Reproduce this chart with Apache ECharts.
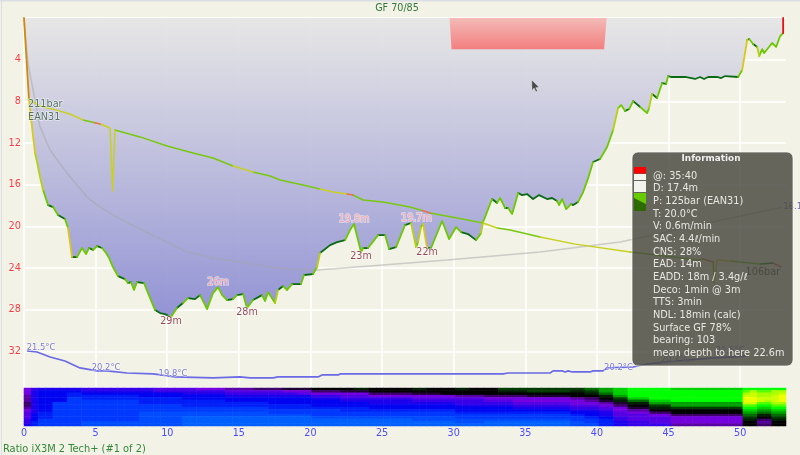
<!DOCTYPE html>
<html><head><meta charset="utf-8">
<style>html,body{margin:0;padding:0;background:#f2f2e6}#c{width:800px;height:455px}</style>
<script src="https://cdn.jsdelivr.net/npm/echarts@6/dist/echarts.min.js"></script>
</head><body><div id="c"></div>
<script>
const depthProfile=[[0,0],[.35,7.87],[.56,10.46],[.77,12.96],[.91,13.82],[1.12,15.26],[1.33,16.51],[1.68,17.95],[2.03,18.14],[2.37,18.91],[2.86,19.29],[3.07,20.15],[3.35,22.94],[3.7,22.94],[4.05,22.07],[4.33,22.65],[4.54,22.07],[4.82,22.26],[5.1,21.88],[5.45,22.07],[5.73,22.55],[5.94,23.03],[6.21,23.9],[6.56,24.76],[7.05,25.05],[7.26,25.43],[7.47,25.34],[7.68,26.1],[7.89,25.34],[8.38,25.43],[8.66,26.39],[9.15,28.02],[9.5,28.31],[9.85,28.41],[10.26,28.69],[10.68,27.83],[11.1,27.35],[11.45,26.87],[11.94,26.97],[12.29,26.59],[12.78,27.93],[13.2,26.39],[13.55,25.82],[13.83,26.59],[14.18,27.06],[14.59,26.97],[14.87,26.59],[15.29,26.49],[15.57,27.83],[15.99,27.06],[16.62,26.59],[16.83,27.16],[17.04,26.3],[17.18,26.59],[17.53,27.35],[17.74,26.1],[18.09,25.72],[18.37,26.1],[18.71,25.53],[19.34,25.53],[19.55,24.66],[20.18,24.57],[20.46,23.9],[20.67,22.55],[21.37,21.79],[21.86,21.5],[22.42,21.31],[22.76,20.35],[23.04,19.77],[23.53,22.46],[23.67,22.07],[24.02,22.07],[24.72,20.83],[25.21,20.83],[25.49,22.17],[25.98,21.98],[26.6,19.87],[27.02,19.67],[27.37,21.98],[27.51,21.5],[27.72,20.06],[27.86,19.77],[28.14,22.07],[28.42,22.07],[29.19,19.48],[29.68,21.21],[30.17,20.06],[30.51,20.54],[31,20.73],[31.56,21.31],[31.91,20.64],[32.05,19.58],[32.68,17.37],[33.03,17.75],[33.24,17.27],[33.59,18.23],[33.8,18.23],[34.08,18.81],[34.5,16.79],[34.78,16.99],[35.12,16.89],[35.54,17.37],[35.96,16.99],[36.52,17.37],[36.87,17.27],[37.22,17.56],[37.36,17.95],[37.57,17.37],[37.64,17.56],[37.85,18.33],[38.2,17.85],[38.34,17.95],[38.68,17.66],[39.04,16.7],[39.39,15.36],[39.73,13.82],[40.22,13.53],[40.71,12.38],[41.13,10.75],[41.48,8.64],[41.69,8.35],[41.97,8.93],[42.25,8.73],[42.53,7.97],[43.02,8.54],[43.5,9.12],[43.64,8.64],[43.85,7.29],[44.2,7.68],[44.55,6.24],[44.83,6.33],[44.97,5.57],[45.18,5.66],[46.16,5.66],[46.86,5.85],[47.2,5.66],[47.48,5.85],[47.76,5.66],[48.39,5.66],[48.67,5.76],[48.95,5.57],[49.86,5.66],[50.14,4.99],[50.49,2.11],[50.63,2.02],[50.91,2.5],[51.19,2.78],[51.33,3.65],[51.54,2.98],[51.68,3.36],[52.23,2.4],[52.51,2.78],[52.79,1.73],[53,1.44],[53,0]];
const meanDepth=[[0,0],[.14,2.4],[.28,4.32],[1.12,10.46],[1.82,12.67],[3,14.88],[4.4,17.18],[5.31,18.14],[6.49,19.1],[8.1,20.25],[9.99,21.5],[11.38,22.46],[13.2,23.03],[15.08,23.42],[17.18,23.9],[18.57,24.09],[20.46,24.18],[24.16,23.8],[29.54,23.22],[36.03,22.46],[41.62,21.5],[52.93,18.14]];
const ceiling=[[29.71,0],[29.85,3],[40.5,3],[40.68,0]];
const pressure=[[.28,211],[1.12,206.6],[1.96,204.8],[3.21,201.6],[4.12,197.9],[4.95,196.1],[5.31,195.4],[6.01,192.9],[6.19,153.5],[6.35,191.6],[8.1,187.3],[9.99,181.6],[11.8,177.3],[13.2,174.1],[14.59,169.1],[15.99,165.4],[17.18,162.9],[17.88,160.4],[19.48,157.3],[20.67,154.8],[21.58,152.9],[22.55,151.6],[22.97,151],[23.67,147.9],[25.07,146.6],[26.95,143.5],[27.8,141.3],[28.35,139.8],[30.24,136.6],[32.05,133.5],[33.03,130.4],[33.94,129.1],[36.03,124.8],[38.48,120.3],[42.32,115.4],[45.32,112.3],[47,110.4],[47.42,111],[48.11,109.1],[48.18,96],[48.39,110.4],[49.3,109.8],[51.4,107.9],[52.3,108.5],[52.86,106]];
const pressureTone="22221322211111211112231111311211221113122 1033".replace(' ','');
const temperature=[[.21,21.5],[.91,21.43],[1.82,21.1],[2.86,20.83],[3.91,20.37],[5.1,20.17],[5.8,20.17],[7.19,20.03],[9.01,19.97],[10.54,19.77],[13.2,19.7],[15.08,19.77],[15.78,19.7],[17.39,19.7],[17.74,19.77],[20.53,19.77],[20.81,19.9],[21.93,19.9],[22.07,19.97],[33.45,19.97],[33.8,20.03],[36.73,20.03],[36.94,20.17],[37.57,20.17],[37.78,20.1],[37.99,20.17],[38.27,20.1],[39.52,20.1],[39.73,20.17],[40.43,20.17],[40.71,20.37],[42.53,20.43],[43.5,20.63],[44.9,20.77],[48.11,21.03],[50.35,21.15]];
const depthLows=[[10.26,28.69,'29m'],[15.57,27.83,'28m'],[23.53,22.46,'23m'],[28.14,22.07,'22m']];
const depthHighs=[[13.55,25.82,'26m'],[23.04,19.77,'19.8m'],[27.4,19.67,'19.7m']];
const tempLabels=[[1.19,21.5,'21.5°C'],[5.73,20.2,'20.2°C'],[10.4,19.8,'19.8°C'],[41.5,20.2,'20.2°C'],[45.46,20.7,'20.7°C'],[49.3,21.3,'21.5°C']];
const heatRows=[
"i1g1f6g10h6i4j4k4l4m6n2m6n2m4n2m4o10o2p2q2r2s6r10s6",
"i1f1e6f10g6g4h4h4i4k4l4m8m10n4o6n2o2q2r2s6s10t1u1t2u2",
"i1f1e4d2e8e6f6g6g4h2i4i4k6l4m10m10n2p2r2s6s10u1v1u2u1v1",
"j1f1e4d2d8e6e6f6f6g4h4i6i6j4k6l6m4n2q2s6s10v2u2v1w1",
"j1f1e4c2d8d6e6e6e6f4g4g6h6h4i12j2k2m2o2r3s3s10w2v2v1w1",
"j1f1e4c2c8d6d6e6e6e4f4f6g6g4h4i8i2j2l2n2p3r3s10w2v1u1v1w1",
"k1f1e2c4c8d6d6d6e6e4e4f6f6g4g4h8i2i2j2l2n3q3q10v2t2u2",
"k1f1e2c4c8c6d6d6d6e4e4e6e6f4f4g8h2h2i2k2m3o3q10t2s2t2",
"j1f1e2c4c8c6c6c6d6d4d4e6e6e4e4f8g2g2h2i2l3n3o10s2r2s2",
"i1f1e2c4c8c6c6c6c6c4d4d6d6e4e4e8f2f2g2i2j3m3m10r2q2r2",
"h1f1d2c4c8b6b6b6c6c4c4c6c6d4d4d8e2e2f2h2i3k3m10q2p2q2",
"h1e1d2c4c8b6b6b6b6c4c4c6c6c4c4c8d2e2f2h2h3i3k10p2n2p2",
"h1e1d2c4c8b6a6a6a6b4b4b6b6c4c4c8c2d2e2g2h3h3i10o2m2o2",
"g1e1c6c8b6a6a6a6a4a4a6b6b4b4b8c2c2d2g2h3h3i10n2k2n2",
"g1d1c6b8b6a6a6a6a4a4a6a6b4a4a8b2c2d2f2g3h3i10m2j2m2",
"f1d1c6b8b6a6a6a6a4a4a6a6a4a4a8b2b2d2f2g3g3j10m2k2m2"];
const heatPalette=['#0060ff','#0038ff','#0004f0','#3800e8','#7400e0','#3c0068','#000000','#003c00','#00a000','#00ff00','#a8ff00','#f0ff00'];
const infoLines=['@: 35:40','D: 17.4m','P: 125bar (EAN31)','T: 20.0°C','V: 0.6m/min','SAC: 4.4ℓ/min','CNS: 28%','EAD: 14m','EADD: 18m / 3.4g/ℓ','Deco: 1min @ 3m','TTS: 3min','NDL: 18min (calc)','Surface GF 78%','bearing: 103','mean depth to here 22.6m'];
const depthColors=['#0b6a16','#6cc800','#b8d010','#d8c820','#d08a10','#e81010'];
const tankColors=['#0b7a20','#78c810','#c8d020','#e8704a'];
const FONT='DejaVu Sans';

function speedClass(a,b){const dt=b[0]-a[0];if(dt<=0)return 5;const v=Math.abs(b[1]-a[1])/dt;return v<1.2?0:v<5.5?1:v<8?2:v<18?3:4;}
function toSegments(points,classOf,colors,yIndex,width){
  const buckets=colors.map(()=>[]),last=colors.map(()=>-2);
  for(let i=0;i<points.length-1;i++){
    const c=classOf(i);
    if(last[c]!==i){if(buckets[c].length)buckets[c].push([points[i][0],null]);buckets[c].push(points[i]);}
    buckets[c].push(points[i+1]);last[c]=i+1;
  }
  return buckets.map((d,c)=>({type:'line',xAxisIndex:0,yAxisIndex:yIndex,data:d,showSymbol:false,silent:true,z:5,
    lineStyle:{color:colors[c],width:width,cap:'round',join:'round'},animation:false}));
}
function labelSeries(data,yIndex,label){
  return {type:'scatter',xAxisIndex:0,yAxisIndex:yIndex,data:data,symbolSize:0,silent:true,z:6,animation:false,
    label:Object.assign({show:true,fontFamily:FONT,fontSize:9.6,formatter:p=>p.data[2]},label)};
}
const HEAT_COLS=106;
const heatData=[];
heatRows.forEach((row,r)=>{
  let c=0;
  row.match(/[a-w]\d+/g).forEach(tok=>{
    const v=(tok.charCodeAt(0)-97)/2,n=+tok.slice(1);
    for(let k=0;k<n&&c<HEAT_COLS;k++,c++)heatData.push([c,r,v]);
  });
  const last=(row.match(/[a-w]\d+$/)[0].charCodeAt(0)-97)/2;
  while(c<HEAT_COLS){heatData.push([c,r,last]);c++;}
});

const series=[
 {type:'line',xAxisIndex:0,yAxisIndex:0,data:depthProfile,showSymbol:false,silent:true,lineStyle:{width:0},z:2,animation:false,
  areaStyle:{origin:'start',opacity:.95,color:{type:'linear',x:0,y:0,x2:0,y2:1,colorStops:[{offset:0,color:'#e6e6e6'},{offset:1,color:'#8e8ed4'}]}}},
 {type:'line',xAxisIndex:0,yAxisIndex:0,data:ceiling,showSymbol:false,silent:true,lineStyle:{width:0},z:3,animation:false,
  areaStyle:{origin:'start',opacity:.95,color:{type:'linear',x:0,y:0,x2:0,y2:1,colorStops:[{offset:0,color:'#f4b8b4'},{offset:1,color:'#f47a7a'}]}}},
 {type:'line',xAxisIndex:0,yAxisIndex:0,data:meanDepth,showSymbol:false,silent:true,z:3,animation:false,lineStyle:{color:'rgba(165,165,165,.5)',width:1.5}},
 {type:'line',xAxisIndex:0,yAxisIndex:2,data:temperature,showSymbol:false,silent:true,z:4,animation:false,lineStyle:{color:'#6a6ae6',width:1.7}},
 ...toSegments(depthProfile,i=>speedClass(depthProfile[i],depthProfile[i+1]),depthColors,0,1.8),
 ...toSegments(pressure,i=>+pressureTone[i]||0,tankColors,1,1.5),
 labelSeries(depthLows,0,{position:'bottom',distance:-1,color:'#7a1a30',textBorderColor:'rgba(255,255,255,.7)',textBorderWidth:1.5}),
 labelSeries(depthHighs,0,{position:'top',distance:0,color:'#ff9c9c',textBorderColor:'rgba(255,255,255,.7)',textBorderWidth:1.5}),
 labelSeries(tempLabels,2,{position:'top',distance:-1,fontSize:8.4,color:'#5a5ac8',textBorderColor:'rgba(255,255,255,.6)',textBorderWidth:1.5}),
 labelSeries([[.28,211,'211bar\nEAN31']],1,{position:'right',distance:0,offset:[0,12],lineHeight:13,fontSize:9.7,color:'#2f5540',textBorderColor:'rgba(255,255,255,.7)',textBorderWidth:1.5}),
 labelSeries([[52.86,106,'106bar']],1,{position:'left',distance:1,offset:[0,5],fontSize:9.7,color:'#2a2a2a'}),
 labelSeries([[52.93,18.14,'18.1m']],0,{position:'right',distance:1,fontSize:8.6,color:'#5050a8'}),
 {type:'heatmap',xAxisIndex:1,yAxisIndex:3,data:heatData,silent:true,animation:false,progressive:0}
];
const heatSeriesIndex=series.length-1;

const panel=[
 {type:'rect',shape:{x:632,y:152,width:161,height:214,r:6},style:{fill:'rgba(72,72,64,.83)',stroke:'rgba(255,255,255,.7)',lineWidth:1}},
 {type:'text',style:{x:711,y:158.5,text:'Information',fill:'#f0f0f0',font:'bold 8.9px "'+FONT+'"',align:'center',verticalAlign:'middle'}},
 {type:'rect',shape:{x:634,y:167,width:12,height:6.5},style:{fill:'#ff0000'}},
 {type:'rect',shape:{x:634,y:174,width:12,height:6},style:{fill:'#f4f4ee'}},
 {type:'rect',shape:{x:634,y:181,width:12,height:11},style:{fill:'#f4f4ee'}},
 {type:'rect',shape:{x:634,y:193,width:12,height:5},style:{fill:'#66cc00'}},
 {type:'rect',shape:{x:634,y:198,width:12,height:13},style:{fill:'#2f6a00'}},
 {type:'polygon',shape:{points:[[634,198],[646,198],[646,204]]},style:{fill:'#66cc00'}}
].concat(infoLines.map((t,i)=>({type:'text',style:{x:653,y:176+i*12.67,text:t,fill:'#e8e8e2',font:'9.75px "'+FONT+'"',verticalAlign:'middle'}})));

const chart=echarts.init(document.getElementById('c'),null,{renderer:'canvas'});
chart.setOption({
 animation:false,backgroundColor:'#f2f2e6',
 title:[
  {text:'GF 70/85',left:397,top:3,padding:0,textAlign:'center',textStyle:{fontFamily:FONT,fontSize:9.6,fontWeight:'normal',color:'#33773a'}},
  {text:'Ratio iX3M 2 Tech+ (#1 of 2)',left:3,top:444,padding:0,textStyle:{fontFamily:FONT,fontSize:9.85,fontWeight:'normal',color:'#33883a'}}
 ],
 grid:[{left:24,top:18,width:762,height:370},{left:24,top:388,width:762,height:38}],
 xAxis:[
  {type:'value',gridIndex:0,min:0,max:53.2,interval:5,axisLine:{show:false},axisTick:{show:false},
   splitLine:{show:true,showMaxLine:false,lineStyle:{color:'#ffffff',width:1.5}},
   axisLabel:{margin:40,fontFamily:FONT,fontSize:9.6,color:'#4a4aff',showMaxLabel:false,formatter:v=>v%5===0?String(v):''}},
  {type:'category',gridIndex:1,show:false,data:Array.from({length:HEAT_COLS},(_,i)=>i)}
 ],
 yAxis:[
  {type:'value',gridIndex:0,inverse:true,min:0,max:35.5,interval:4,axisLine:{show:false},axisTick:{show:false},
   splitLine:{show:true,lineStyle:{color:'#ffffff',width:1.5}},
   axisLabel:{margin:3,fontFamily:FONT,fontSize:9.8,color:'#ff3838',textBorderColor:'rgba(255,255,255,.6)',textBorderWidth:1.5,formatter:v=>(v>0&&v%4===0)?String(v):''}},
  {type:'value',gridIndex:0,show:false,min:30.4,max:261.6,splitLine:{show:false}},
  {type:'value',gridIndex:0,show:false,min:19.03,max:43.7,splitLine:{show:false}},
  {type:'category',gridIndex:1,show:false,inverse:true,data:Array.from({length:16},(_,i)=>i)}
 ],
 visualMap:{show:false,type:'continuous',seriesIndex:heatSeriesIndex,dimension:2,min:0,max:11,inRange:{color:heatPalette}},
 series:series,
 graphic:[
  {type:'rect',z:200,shape:{x:1,y:0,width:1,height:455},style:{fill:'#dcdee6'}},
  {type:'rect',z:200,shape:{x:0,y:0,width:800,height:1.5},style:{fill:'#dcdee6'}},
  {type:'polygon',z:150,shape:{points:[[531.7,80],[532,90.7],[534,88],[536,91.7],[537.5,91],[535.7,87.7],[539,87.3]]},style:{fill:'#484848',stroke:'rgba(255,255,255,.6)',lineWidth:.6}},
  {type:'group',z:300,children:panel.map(e=>Object.assign(e,{z:300}))}
 ]
});
</script></body></html>
